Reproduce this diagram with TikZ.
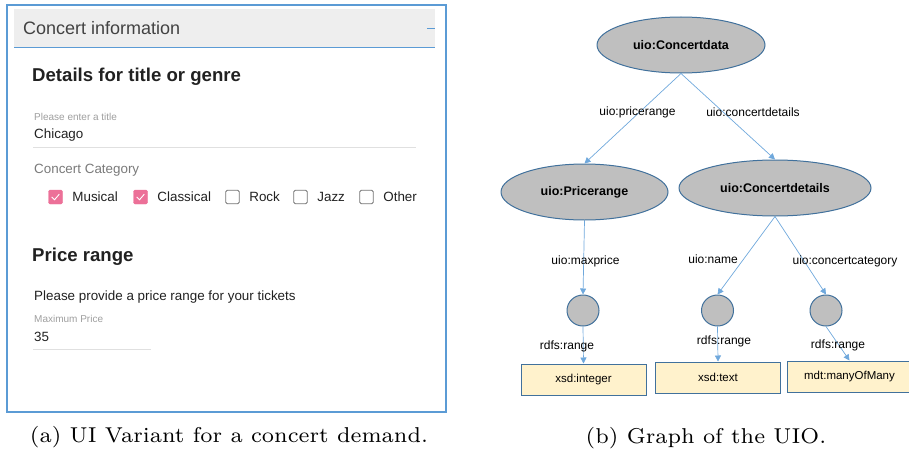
\documentclass[tikz,border=0pt]{standalone}
\usepackage{fontspec}
\newfontfamily\uifont{Liberation Sans}
\newfontfamily\captfont{lmroman7-regular.otf}
\usetikzlibrary{arrows.meta,positioning,shapes.geometric}

\definecolor{frameblue}{HTML}{5B9BD5}
\definecolor{headgray}{HTML}{EEEEEE}
\definecolor{pinkbox}{HTML}{EC7098}
\definecolor{hintgray}{HTML}{9E9E9E}
\definecolor{catgray}{HTML}{7A7A7A}
\definecolor{inkdark}{HTML}{212121}
\definecolor{rulegray}{HTML}{E0E0E0}
\definecolor{nodegray}{HTML}{BFBFBF}
\definecolor{nodeline}{HTML}{41719C}
\definecolor{edgeblue}{HTML}{6FA8DC}
\definecolor{typefill}{HTML}{FFF2CC}

\begin{document}
\begin{tikzpicture}[
      x=1pt, y=-1pt,
      hdr/.style={font=\uifont\fontsize{18}{21}\selectfont, text=inkdark!85, anchor=west, inner sep=0pt},
      sect/.style={font=\uifont\bfseries\fontsize{18.6}{22}\selectfont, text=inkdark, anchor=west, inner sep=0pt},
      hint/.style={font=\uifont\fontsize{10}{12}\selectfont, text=hintgray, anchor=west, inner sep=0pt},
      field/.style={font=\uifont\fontsize{13.4}{16}\selectfont, text=inkdark, anchor=west, inner sep=0pt},
      chk/.style={draw=pinkbox, fill=pinkbox, rounded corners=1.5pt, minimum size=14pt, inner sep=0pt},
      unchk/.style={draw=black!55, line width=0.8pt, rounded corners=1.5pt, minimum size=13.5pt, inner sep=0pt},
      concept/.style={ellipse, draw=nodeline, line width=1pt, fill=nodegray, minimum width=168pt,
        minimum height=56pt, inner sep=0pt, font=\uifont\bfseries\fontsize{12.5}{15}\selectfont},
      blank/.style={ellipse, draw=nodeline, line width=1pt, fill=nodegray, minimum width=32pt,
        minimum height=31pt, inner sep=0pt},
      dtype/.style={rectangle, draw=nodeline, line width=1pt, fill=typefill, minimum width=125pt,
        minimum height=31pt, inner sep=0pt, font=\uifont\fontsize{11.5}{14}\selectfont},
      rel/.style={draw=edgeblue, line width=0.7pt, -{Triangle[length=6pt,width=6pt]}},
      elab/.style={font=\uifont\fontsize{12}{14}\selectfont, inner sep=0pt},
      capt/.style={font=\captfont\fontsize{21.5}{26}\selectfont, inner sep=0pt},
    ]
    \useasboundingbox (0,0) rectangle (909,452);

    % --- left: the form ---
    \fill[headgray] (14,9) rectangle (435,47);
    \draw[frameblue] (14,47) -- (435,47);
    \draw[frameblue] (427,28) -- (435,28);
    \draw[frameblue, line width=1.2pt] (7,5) rectangle (446,412);
    \node[hdr] (head) at (23,28) {Concert information};

    \node[sect] (sdet) at (32,77) {Details for title or genre};
    \node[hint] (htitle) at (34,117) {Please enter a title};
    \node[field] (ftitle) at (34,135) {Chicago};
    \draw[rulegray] (33,147) -- (416,147);
    \node[field, text=catgray] (hcat) at (34,170) {Concert Category};

    \node[chk] (bmus) at (55.5,197) {};
    \node[field, right=9.5pt of bmus] (tmus) {Musical};
    \node[chk] (bcla) at (140.5,197) {};
    \node[field, right=9.5pt of bcla] (tcla) {Classical};
    \node[unchk] (brock) at (232.5,197) {};
    \node[field, right=9.5pt of brock] (trock) {Rock};
    \node[unchk] (bjazz) at (300.5,197) {};
    \node[field, right=9.5pt of bjazz] (tjazz) {Jazz};
    \node[unchk] (bother) at (366.5,197) {};
    \node[field, right=9.5pt of bother] (tother) {Other};
    \foreach \b in {bmus,bcla}
      \draw[white, line width=0.9pt] ([shift={(-3.8,0)}]\b.center) -- ([shift={(-1,2.8)}]\b.center)
        -- ([shift={(3.8,-2.8)}]\b.center);

    \node[sect] (sprice) at (32,257) {Price range};
    \node[field] (pdesc) at (34,297) {Please provide a price range for your tickets};
    \node[hint] (hmax) at (34,319) {Maximum Price};
    \node[field] (fmax) at (34,337) {35};
    \draw[rulegray] (33,349) -- (151,349);

    \node[capt] (capa) at (229,437) {(a) UI Variant for a concert demand.};

    % --- right: the UIO graph ---
    \node[concept] (cdata) at (681,45) {uio:Concertdata};
    \node[concept, minimum width=167pt] (price) at (584.5,192) {uio:Pricerange};
    \node[concept, minimum width=192pt] (details) at (775,188) {uio:Concertdetails};
    \node[blank] (b1) at (583,310.5) {};
    \node[blank] (b2) at (717.5,310.5) {};
    \node[blank] (b3) at (826,310.5) {};
    \node[dtype] (t1) at (583.5,379.5) {xsd:integer};
    \node[dtype] (t2) at (718,377.5) {xsd:text};
    \node[dtype] (t3) at (849.5,376.5) {mdt:manyOfMany};

    \draw[rel] (cdata.south) -- (price.north);
    \draw[rel] (cdata.south) -- (details.north);
    \draw[rel] (price.south) -- (b1.north);
    \draw[rel] (details.south) -- (b2.north);
    \draw[rel] (details.south) -- (b3.north);
    \draw[rel] (b1.south) -- (t1.north);
    \draw[rel] (b2.south) -- (t2.north);
    \draw[rel] (b3.south) -- (t3.north);

    \node[elab] (lpr) at (637.5,112) {uio:pricerange};
    \node[elab] (lcd) at (753,112) {uio:concertdetails};
    \node[elab] (lmax) at (585.5,261) {uio:maxprice};
    \node[elab] (lname) at (713,259) {uio:name};
    \node[elab] (lcat) at (845,261) {uio:concertcategory};
    \node[elab] (lr1) at (567,346) {rdfs:range};
    \node[elab] (lr2) at (724,341) {rdfs:range};
    \node[elab] (lr3) at (838,345) {rdfs:range};

    \node[capt] (capb) at (706,438) {(b) Graph of the UIO.};
  \end{tikzpicture}
\end{document}
